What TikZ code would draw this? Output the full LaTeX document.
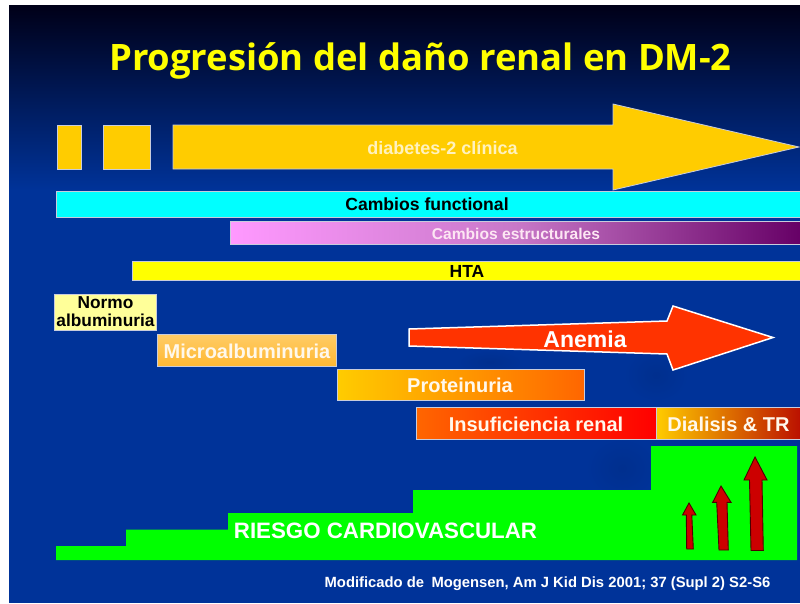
\documentclass[tikz,border=0pt]{standalone}
\usepackage{fontspec}
\setmainfont{Liberation Sans}
\newfontfamily\titlefont{Open Sans}
\definecolor{slideblue}{HTML}{003399}
\definecolor{slidedark}{HTML}{002F8E}
\definecolor{slidetop}{HTML}{000018}
\definecolor{gold}{HTML}{FFCC00}
\definecolor{barline}{HTML}{C8CCDC}
\definecolor{arrowred}{HTML}{CC0000}
\definecolor{anemiared}{HTML}{FF3300}
\definecolor{pinkstart}{HTML}{FF99FF}
\definecolor{pinkmid}{HTML}{C878C8}
\definecolor{pinkend}{HTML}{660066}
\definecolor{purecyan}{HTML}{00FFFF}
\definecolor{pureyellow}{HTML}{FFFF00}
\definecolor{puregreen}{HTML}{00FF00}
\definecolor{purered}{HTML}{FF0000}
\definecolor{paleyellow}{HTML}{FFFF99}
\definecolor{microtop}{HTML}{FFCC66}
\definecolor{microbot}{HTML}{FFB833}
\definecolor{deeporange}{HTML}{FF6600}
\definecolor{dialend}{HTML}{BB1100}
\definecolor{softwhite}{HTML}{FFF8EC}
\tikzset{
  barbox/.style={draw=barline,line width=0.8pt},
  goldbox/.style={barbox,fill=gold},
  lab/.style={inner sep=0pt,font=\bfseries,align=center},
  riser/.style={fill=arrowred,draw=black!70!red,line width=0.9pt,line join=miter},
  swoosh/.style={inner color=slidedark,outer color=slideblue},
}
\newcommand{\sz}[1]{\fontsize{#1}{#1}\selectfont}
\begin{document}
\begin{tikzpicture}[x=1pt,y=-1pt]
\useasboundingbox (0,0) rectangle (800,603);
\fill[white] (0,0) rectangle (800,603);
% slide background
\shade[top color=slidetop,bottom color=slideblue] (9,5) rectangle (800,190);
\fill[slideblue] (9,189.5) rectangle (800,603);
\shade[swoosh] (656,375) ellipse [x radius=32pt,y radius=28pt];
\shade[swoosh] (622,468) ellipse [x radius=36pt,y radius=32pt];
\shade[swoosh] (490,362) ellipse [x radius=34pt,y radius=12pt];
% title
\node[lab,text=pureyellow,font=\titlefont\bfseries\sz{36.4}] (title) at (420.5,61) {Progresión del daño renal en DM-2};
% clinical diabetes
\path[goldbox] (57,125) rectangle (81,169);
\path[goldbox] (103,125) rectangle (150,169);
\path[goldbox] (173,125) -- (613,125) -- (613,104) -- (799,147) -- (613,190) -- (613,169) -- (173,169) -- cycle;
\node[lab,text=gold!25!white,font=\bfseries\sz{18}] (clinica) at (442.5,148) {diabetes-2 clínica};
% long bars
\path[barbox,fill=purecyan] (56,191) rectangle (801,217);
\node[lab,font=\bfseries\sz{17.6}] (funcional) at (427,204.5) {Cambios functional};
\path[barbox,left color=pinkstart,right color=pinkend,middle color=pinkmid] (230,221.5) rectangle (801,244.5);
\node[lab,text=white!90!magenta,font=\bfseries\sz{15.6}] (estructurales) at (516,233.5) {Cambios estructurales};
\path[barbox,fill=pureyellow] (132.5,261) rectangle (801,280);
\node[lab,font=\bfseries\sz{17.5}] (hta) at (467,271) {HTA};
% albuminuria stages
\path[barbox,fill=paleyellow] (54,294) rectangle (156.5,330);
\node[lab,font=\bfseries\fontsize{17.3}{18}\selectfont] (normo) at (105.5,312) {Normo\\albuminuria};
\path[barbox,top color=microtop,bottom color=microbot] (157,334) rectangle (336,366.5);
\node[lab,text=softwhite,font=\bfseries\sz{20}] (micro) at (247,351) {Microalbuminuria};
\path[barbox,left color=gold,right color=deeporange] (337,369.5) rectangle (584,400);
\node[lab,text=softwhite,font=\bfseries\sz{20}] (prot) at (460,385.5) {Proteinuria};
\path[barbox,left color=deeporange,right color=purered] (416,407) rectangle (656,439.5);
\node[lab,text=softwhite,font=\bfseries\sz{20}] (insuf) at (536,424) {Insuficiencia renal};
\path[barbox,left color=gold,right color=dialend] (656,407) rectangle (800,439.5);
\node[lab,text=softwhite,font=\bfseries\sz{20}] (dial) at (728.5,424) {Dialisis \& TR};
% anemia arrow
\path[draw=white,line width=1.5pt,fill=anemiared,line join=miter] (409,329) -- (667,321) -- (673,306) -- (773,337.5) -- (673,370) -- (667,354) -- (409,346) -- cycle;
\node[lab,text=white,font=\bfseries\sz{23}] (anemia) at (585,339) {Anemia};
% cardiovascular risk
\fill[puregreen] (56,560) -- (56,546) -- (126,546) -- (126,529.5) -- (228,529.5) -- (228,513) -- (413,513) -- (413,490) -- (651,490) -- (651,446) -- (797,446) -- (797,560) -- cycle;
\node[lab,text=white,font=\bfseries\sz{22.3}] (riesgo) at (385.5,531) {RIESGO CARDIOVASCULAR};
\path[riser] (686.7,549) -- (686.3,515) -- (682.5,515) -- (689,503) -- (696,515) -- (691.8,515) -- (693.3,549) -- cycle;
\path[riser] (719,550) -- (716.7,502.3) -- (712.7,502.3) -- (721,486) -- (731,502.3) -- (727,502.3) -- (728.3,550) -- cycle;
\path[riser] (751,550.5) -- (749.5,480) -- (744,480) -- (755,457) -- (767,480) -- (762,480) -- (763.3,550.5) -- cycle;
% source
\node[lab,text=white,font=\bfseries\sz{14.8}] (fuente) at (547.5,584) {Modificado de\enspace Mogensen, Am J Kid Dis 2001; 37 (Supl 2) S2-S6};
\end{tikzpicture}
\end{document}
